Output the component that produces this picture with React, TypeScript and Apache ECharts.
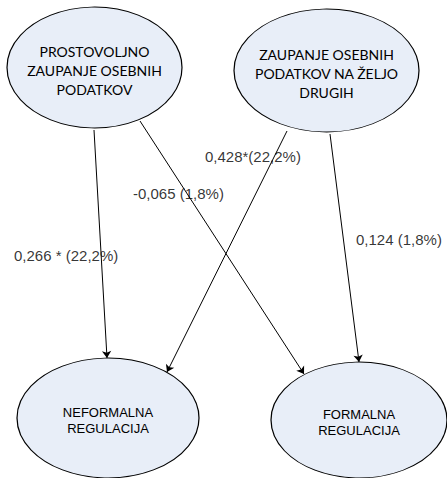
import React, { useEffect, useRef } from "react";
import * as echarts from "echarts";

// Constructs (nodes) of the path diagram
const nodeNames = [
  "PROSTOVOLJNO\nZAUPANJE OSEBNIH\nPODATKOV",
  "ZAUPANJE OSEBNIH\nPODATKOV NA ŽELJO\nDRUGIH",
  "NEFORMALNA\nREGULACIJA",
  "FORMALNA\nREGULACIJA",
];
const nodeCenters: [number, number][] = [
  [94.5, 67.5],
  [326.5, 70.5],
  [108, 418],
  [359, 420],
];
const nodeSizes: [number, number][] = [
  [175, 121],
  [185, 123],
  [182, 120],
  [176, 116],
];

// Paths (arrows): start and end points in diagram coordinates
const pathStarts: [number, number][] = [
  [94, 130],
  [140, 121],
  [287, 131],
  [330, 134],
];
const pathEnds: [number, number][] = [
  [107, 358],
  [304, 374],
  [167, 372],
  [359, 362],
];

// Path coefficients
const pathLabels = ["0,266 * (22,2%)", "-0,065 (1,8%)", "0,428*(22,2%)", "0,124 (1,8%)"];
const pathLabelAnchors: [number, number][] = [
  [14, 255],
  [133, 193],
  [205, 156],
  [356, 239],
];

export default function App() {
  const ref = useRef<HTMLDivElement>(null);

  useEffect(() => {
    if (!ref.current) return;
    const chart = echarts.init(ref.current, undefined, { renderer: "svg" });

    const nodeData = nodeNames.map((name, i) => ({
      name,
      value: nodeCenters[i],
      symbolSize: nodeSizes[i],
      label: i < 2
        ? { fontFamily: "Lato", fontSize: 14, lineHeight: 19, offset: [0, 3] }
        : { fontFamily: "Liberation Sans", fontSize: 13, lineHeight: 16, offset: [0, 2] },
    }));

    const lineData = pathStarts.map((s, i) => ({ coords: [s, pathEnds[i]] }));

    const labelData = pathLabels.map((name, i) => ({ name, value: pathLabelAnchors[i] }));

    chart.setOption({
      animation: false,
      grid: { left: 0, right: 0, top: 0, bottom: 0 },
      xAxis: { type: "value", min: 0, max: 447, show: false },
      yAxis: { type: "value", min: 0, max: 478, inverse: true, show: false },
      series: [
        {
          type: "scatter",
          symbol: "circle",
          silent: true,
          z: 1,
          itemStyle: { color: "#e8eef8", borderColor: "#000", borderWidth: 1, opacity: 1 },
          label: {
            show: true,
            position: "inside",
            color: "#000",
            formatter: (p: any) => p.name,
          },
          data: nodeData,
        },
        {
          type: "lines",
          coordinateSystem: "cartesian2d",
          silent: true,
          z: 2,
          symbol: ["none", "arrow"],
          symbolSize: 7,
          lineStyle: { color: "#000", width: 1, opacity: 1, curveness: 0 },
          data: lineData,
        },
        {
          type: "scatter",
          symbolSize: 0,
          silent: true,
          z: 3,
          label: {
            show: true,
            position: "right",
            distance: 0,
            color: "#000",
            fontFamily: "Liberation Sans",
            fontSize: 15,
            formatter: (p: any) => p.name,
          },
          data: labelData,
        },
      ],
    });

    return () => chart.dispose();
  }, []);

  return (
    <div
      ref={ref}
      style={{ position: "absolute", left: 0, top: 0, width: 447, height: 478, background: "#fff" }}
    />
  );
}
